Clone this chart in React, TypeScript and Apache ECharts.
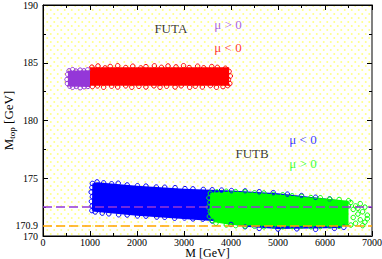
import React, { useEffect, useRef } from 'react';
import * as echarts from 'echarts';

// axis ranges / tick labels
const xRange = [0, 7000];
const yRange = [170, 190];
const yExtraTick = [170.9];
const refLines = [172.5, 170.9];

// FUTA, mu > 0 (violet)
const futaPosArea = [[530, 184.3], [1000, 184.35], [1000, 182.9], [530, 182.95]];
const futaPosEdge = [[520, 183.2], [510, 183.55], [525, 184.0], [555, 184.3], [630, 184.4], [700, 184.28], [790, 184.36], [870, 184.3], [950, 184.38], [570, 182.97], [630, 182.88], [710, 182.95], [790, 182.84], [875, 182.92], [955, 182.95], [600, 183.8], [700, 183.3], [760, 184.0], [850, 183.5], [920, 183.2]];

// FUTA, mu < 0 (red)
const futaNegArea = [[1000, 184.6], [3960, 184.6], [3960, 183.0], [1000, 183.0]];
const futaNegEdge = [[1040, 184.62], [1170, 184.72], [1320, 184.55], [1430, 184.68], [1590, 184.74], [1760, 184.58], [1910, 184.7], [2080, 184.55], [2190, 184.66], [2370, 184.73], [2520, 184.6], [2660, 184.72], [2830, 184.64], [2990, 184.74], [3110, 184.58], [3290, 184.7], [3420, 184.56], [3590, 184.67], [3710, 184.6], [3880, 184.52], [3960, 184.25], [3985, 183.85], [3945, 183.55], [3975, 183.2], [3930, 183.02], [3830, 182.93], [3690, 182.88], [3560, 183.02], [3390, 182.9], [3240, 182.97], [3120, 182.88], [2940, 183.0], [2810, 182.9], [2630, 182.97], [2490, 182.88], [2360, 183.0], [2190, 182.9], [2040, 182.96], [1890, 182.88], [1760, 183.0], [1590, 182.9], [1460, 182.97], [1290, 182.88], [1160, 183.0], [1050, 182.94], [2300, 183.5], [3200, 184.2], [3700, 183.3], [1700, 183.9], [2800, 183.6], [1300, 183.4], [3450, 183.8]];

// FUTB, mu < 0 (blue)
const futbNegArea = [[1050, 174.55], [1150, 174.65], [2000, 174.35], [3000, 174.1], [4000, 173.95], [5000, 173.7], [6000, 173.25], [6300, 173.1], [6350, 170.7], [5000, 170.6], [4300, 170.8], [3600, 171.3], [2000, 171.75], [1100, 172.1], [1040, 172.2]];
const futbNegEdge = [[1050, 174.55], [1150, 174.68], [1290, 174.6], [1460, 174.52], [1600, 174.57], [1790, 174.42], [2010, 174.35], [2190, 174.32], [2410, 174.24], [2590, 174.22], [2810, 174.18], [3020, 174.1], [3190, 174.08], [3410, 174.03], [3600, 174.0], [3800, 173.97], [4010, 173.93], [4300, 173.9], [4600, 173.83], [4900, 173.75], [5200, 173.62], [5500, 173.5], [5800, 173.35], [6100, 173.2], [1040, 174.2], [1025, 173.8], [1050, 173.4], [1030, 173.0], [1045, 172.6], [1040, 172.2], [1110, 172.08], [1260, 171.98], [1400, 171.92], [1610, 171.84], [1790, 171.82], [2010, 171.74], [2190, 171.72], [2420, 171.64], [2590, 171.62], [2800, 171.54], [3010, 171.56], [3190, 171.48], [3400, 171.46], [3600, 171.3], [4000, 171.0], [4300, 170.8], [4600, 170.66], [5000, 170.6], [5400, 170.62], [5800, 170.58], [6200, 170.66], [6400, 170.75]];

// FUTB, mu > 0 (green)
const futbPosArea = [[3560, 173.75], [4000, 173.85], [4500, 173.75], [5000, 173.6], [5500, 173.4], [6000, 173.25], [6500, 173.05], [6500, 170.85], [5000, 170.85], [4000, 170.95], [3650, 171.2], [3540, 171.8]];
const futbPosEdge = [[3560, 173.7], [3530, 173.3], [3550, 172.9], [3520, 172.5], [3560, 172.1], [3540, 171.7], [3600, 171.35], [3680, 171.1], [3700, 173.82], [3900, 173.87], [4100, 173.84], [4300, 173.82], [4500, 173.74], [4700, 173.72], [4900, 173.6], [5100, 173.57], [5300, 173.48], [5500, 173.42], [5700, 173.33], [5900, 173.31], [6100, 173.2], [6300, 173.16], [6500, 173.05], [3900, 170.96], [4100, 170.9], [4300, 170.86], [4500, 170.84], [4700, 170.8], [4900, 170.86], [5100, 170.8], [5300, 170.82], [5500, 170.86], [5700, 170.8], [5900, 170.82], [6100, 170.86], [6300, 170.84], [6550, 172.9], [6650, 172.6], [6750, 172.8], [6850, 172.5], [6600, 172.3], [6800, 172.1], [6700, 171.9], [6900, 171.8], [6600, 171.6], [6750, 171.4], [6850, 171.2], [6650, 171.1], [6800, 170.9], [6550, 170.95], [6900, 171.5], [6500, 172.6], [6700, 172.4]];

// annotations
const annTexts = ['FUTA', 'μ > 0', 'μ < 0', 'FUTB', 'μ < 0', 'μ > 0'];
const annX = [2720, 3936, 3936, 4447, 5532, 5532];
const annY = [188.0, 188.35, 186.3, 177.13, 178.35, 176.26];

const VIOLET = '#9437d8';
const RED = '#ff0000';
const BLUE = '#0000ff';
const GREEN = '#00ff00';
const ORANGE = '#ffa500';
const annColors = ['#000000', VIOLET, RED, '#000000', BLUE, GREEN];
const FONT = 'Liberation Serif';

const dotSvg = "<svg xmlns='http://www.w3.org/2000/svg' width='7' height='8'><rect width='7' height='8' fill='#ffffff'/><circle cx='1.75' cy='2' r='1' fill='#ffff88'/><circle cx='5.25' cy='6' r='1' fill='#ffff88'/></svg>";

function areaSeries(poly: number[][], color: string) {
  return {
    type: 'custom',
    xAxisIndex: 0,
    yAxisIndex: 0,
    silent: true,
    data: poly,
    renderItem: (params: any, api: any) => {
      if (params.dataIndex !== 0) return null;
      const pts = poly.map((p) => api.coord(p));
      return { type: 'polygon', shape: { points: pts }, style: { fill: color } };
    },
  };
}

function edgeSeries(pts: number[][], color: string) {
  return {
    type: 'scatter',
    xAxisIndex: 0,
    yAxisIndex: 0,
    silent: true,
    symbol: 'circle',
    symbolSize: 4.5,
    itemStyle: { color: 'rgba(0,0,0,0)', borderColor: color, borderWidth: 1, opacity: 1 },
    data: pts,
  };
}

export default function App() {
  const ref = useRef<HTMLDivElement>(null);
  useEffect(() => {
    if (!ref.current) return;
    const chart = echarts.init(ref.current, null, { renderer: 'svg' });
    const tickCommon = {
      axisLine: { show: true, onZero: false, lineStyle: { color: '#000', width: 1 } },
      axisTick: { show: true, inside: true, length: 5, lineStyle: { color: '#000' } },
      minorTick: { show: true, splitNumber: 2, length: 3, lineStyle: { color: '#000' } },
      splitLine: { show: false },
      minorSplitLine: { show: false },
    };
    const plain = (v: number) => String(v);
    const annSeries = annTexts.map((t, i) => ({
      type: 'scatter',
      xAxisIndex: 0,
      yAxisIndex: 0,
      silent: true,
      symbolSize: 1,
      itemStyle: { color: 'rgba(0,0,0,0)' },
      z: 10,
      label: {
        show: true,
        position: 'inside',
        formatter: t,
        color: annColors[i],
        fontFamily: FONT,
        fontSize: 13,
      },
      data: [[annX[i], annY[i]]],
    }));
    chart.setOption({
      animation: false,
      grid: {
        left: 43,
        right: 10,
        top: 5,
        bottom: 23,
        containLabel: false,
        outerBoundsMode: 'none',
        show: true,
        borderColor: '#000',
        borderWidth: 1,
        backgroundColor: {
          image: 'data:image/svg+xml;charset=utf-8,' + encodeURIComponent(dotSvg),
          repeat: 'repeat',
          imageWidth: 7,
          imageHeight: 8,
        },
      },
      xAxis: [
        {
          type: 'value',
          min: xRange[0],
          max: xRange[1],
          interval: 1000,
          position: 'bottom',
          ...tickCommon,
          axisLabel: { color: '#000', fontFamily: FONT, fontSize: 10, lineHeight: 10, margin: 1, formatter: plain },
          name: 'M [GeV]',
          nameLocation: 'middle',
          nameGap: 11,
          nameMoveOverlap: false,
          nameTextStyle: { color: '#000', fontFamily: FONT, fontSize: 12, lineHeight: 12 },
        },
        {
          type: 'value',
          min: xRange[0],
          max: xRange[1],
          interval: 1000,
          position: 'top',
          ...tickCommon,
          axisLabel: { show: false },
        },
      ],
      yAxis: [
        {
          type: 'value',
          min: yRange[0],
          max: yRange[1],
          interval: 5,
          position: 'left',
          ...tickCommon,
          axisLabel: { color: '#000', fontFamily: FONT, fontSize: 10, margin: 5, formatter: plain },
          name: '{m|M}{s|top}{m| [GeV]}',
          nameLocation: 'middle',
          nameGap: 27,
          nameMoveOverlap: false,
          nameTextStyle: {
            color: '#000',
            fontFamily: FONT,
            rich: {
              m: { fontFamily: FONT, fontSize: 13, color: '#000' },
              s: { fontFamily: FONT, fontSize: 9, color: '#000', padding: [6, 0, 0, 0] },
            },
          },
        },
        {
          type: 'value',
          min: yRange[0],
          max: yRange[1],
          interval: 5,
          position: 'right',
          ...tickCommon,
          axisLine: { show: true, onZero: false, lineStyle: { color: '#808080', width: 2 } },
          axisLabel: { show: false },
        },
        {
          type: 'value',
          min: yRange[0],
          max: yRange[1],
          position: 'left',
          axisLine: { show: false },
          axisTick: { show: false },
          splitLine: { show: false },
          axisLabel: { color: '#000', fontFamily: FONT, fontSize: 10, margin: 5, customValues: yExtraTick, formatter: plain },
        },
      ],
      series: [
        areaSeries(futaPosArea, VIOLET),
        edgeSeries(futaPosEdge, VIOLET),
        areaSeries(futaNegArea, RED),
        edgeSeries(futaNegEdge, RED),
        areaSeries(futbNegArea, BLUE),
        edgeSeries(futbNegEdge, BLUE),
        areaSeries(futbPosArea, GREEN),
        edgeSeries(futbPosEdge, GREEN),
        {
          type: 'scatter',
          xAxisIndex: 0,
          yAxisIndex: 0,
          data: [],
          z: 8,
          markLine: {
            silent: true,
            symbol: ['none', 'none'],
            label: { show: false },
            data: [
              { yAxis: refLines[0], lineStyle: { color: VIOLET, type: [9, 4], width: 1.5 } },
              { yAxis: refLines[1], lineStyle: { color: ORANGE, type: [9, 4], width: 1.5 } },
            ],
          },
        },
        ...annSeries,
      ],
    });
    return () => chart.dispose();
  }, []);
  return <div ref={ref} style={{ width: 382, height: 259, position: 'absolute', left: 0, top: 0 }} />;
}
